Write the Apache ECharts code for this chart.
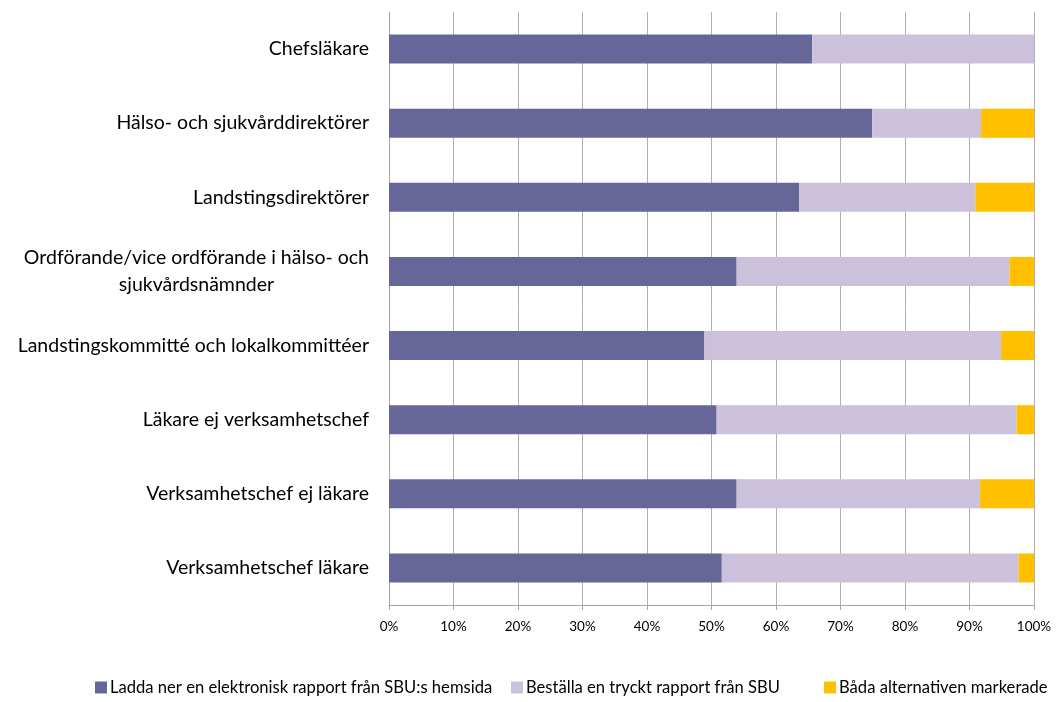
<!DOCTYPE html>
<html>
<head>
<meta charset="utf-8">
<script src="https://cdn.jsdelivr.net/npm/echarts@6/dist/echarts.min.js"></script>
<style>
  html, body { margin: 0; padding: 0; background: #fff; }
  #chart { width: 1058px; height: 702px; }
</style>
</head>
<body>
<div id="chart"></div>
<script>
var categories = [
  'Chefsläkare',
  'Hälso- och sjukvårddirektörer',
  'Landstingsdirektörer',
  'Ordförande/vice ordförande i hälso- och\nsjukvårdsnämnder',
  'Landstingskommitté och lokalkommittéer',
  'Läkare ej verksamhetschef',
  'Verksamhetschef ej läkare',
  'Verksamhetschef läkare'
];
var seriesNames = [
  'Ladda ner en elektronisk rapport från SBU:s hemsida',
  'Beställa en tryckt rapport från SBU',
  'Båda alternativen markerade'
];
var ladda = [65.6, 74.9, 63.6, 53.9, 48.9, 50.8, 53.9, 51.6];
var bestalla = [34.4, 16.9, 27.3, 42.3, 46.0, 46.5, 37.7, 46.0];
var bada = [0, 8.2, 9.1, 3.8, 5.1, 2.7, 8.4, 2.4];
var colors = ['#666699', '#ccc1da', '#ffc000'];

// legend item x positions, Excel spaces them unevenly
var legendLeft = [90, 506, 819];

var chart = echarts.init(document.getElementById('chart'));

function makeSeries(name, data) {
  return {
    name: name,
    type: 'bar',
    stack: 'total',
    barWidth: 29,
    data: data
  };
}

function makeLegend(i) {
  return {
    left: legendLeft[i],
    bottom: 1,
    itemWidth: 12,
    itemHeight: 12,
    icon: 'rect',
    textStyle: { fontSize: 16.6, color: '#000', fontFamily: 'Lato', padding: [0, 0, 0, -2] },
    data: [seriesNames[i]]
  };
}

var option = {
  backgroundColor: '#ffffff',
  color: colors,
  textStyle: { fontFamily: 'Lato' },
  grid: { left: 389, right: 24, top: 12, bottom: 97 },
  legend: [makeLegend(0), makeLegend(1), makeLegend(2)],
  xAxis: {
    type: 'value',
    min: 0,
    max: 100,
    interval: 10,
    axisLine: { show: true, lineStyle: { color: '#a6a6a6' } },
    axisTick: { show: true, length: 5, lineStyle: { color: '#a6a6a6' } },
    splitLine: { show: true, lineStyle: { color: '#b0b0b0', width: 1 } },
    axisLabel: {
      formatter: '{value}%',
      fontSize: 13.5,
      color: '#000',
      margin: 15,
      fontFamily: 'Lato'
    }
  },
  yAxis: {
    type: 'category',
    inverse: true,
    data: categories,
    axisLine: { show: true, lineStyle: { color: '#a6a6a6' } },
    axisTick: { show: false },
    axisLabel: {
      fontSize: 19.5,
      color: '#000',
      margin: 20,
      lineHeight: 27,
      fontFamily: 'Lato',
      formatter: function (v) {
        if (v.indexOf('\n') >= 0) {
          var parts = v.split('\n');
          return '{a|' + parts[0] + '}\n{c|' + parts[1] + '}';
        }
        return v;
      },
      rich: {
        a: { fontSize: 19.5, color: '#000', lineHeight: 27, fontFamily: 'Lato' },
        c: { fontSize: 19.5, color: '#000', lineHeight: 27, fontFamily: 'Lato', align: 'center' }
      }
    }
  },
  series: [
    makeSeries(seriesNames[0], ladda),
    makeSeries(seriesNames[1], bestalla),
    makeSeries(seriesNames[2], bada)
  ]
};

chart.setOption(option);
</script>
</body>
</html>
